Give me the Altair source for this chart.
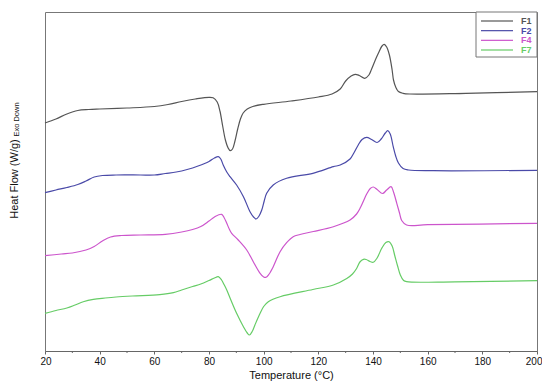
import altair as alt
import pandas as pd

# ---- data (Temperature in °C, heat flow in arbitrary units, offset curves) ----
series_names = ["F1", "F2", "F4", "F7"]
series_colors = ["#555555", "#4a4aa8", "#cc55cc", "#66cc66"]

f1_t = [20, 24, 28, 32, 36, 40, 50, 60, 65, 70, 75, 80, 81.5, 83, 84, 85, 86, 87, 87.8, 88.6,
        89.5, 90.5, 91.5, 92.5, 94, 96, 100, 110, 120, 125, 128, 130, 132, 133.5, 135, 137,
        138.5, 139.5, 141, 142, 143.3, 144.1, 145, 146, 147, 147.5, 148.3, 149.3, 151, 153.5,
        174, 200]
f1_px = [123, 119, 114, 110.5, 109.5, 109, 108, 106.5, 104.5, 101.5, 99, 97.3, 97.8, 102, 111,
         126, 140, 148, 150.7, 149, 141, 129, 119, 113, 109, 106.5, 104.3, 101, 97, 94, 89, 81,
         76, 74.3, 75.5, 78.3, 75, 69, 59, 53, 46, 44.3, 47, 55, 70, 80, 87, 91.5, 93.3, 94,
         93.3, 91.7]

f2_t = [20, 24, 28, 32, 35, 38, 41, 46, 55, 60, 64, 68, 72, 76, 80, 82, 83.4, 84.3, 85.2, 86.5,
        87.7, 90.1, 92.6, 95, 96.3, 97.2, 98.2, 99.3, 100.2, 101.1, 103.5, 108.4, 118, 125.5,
        128, 131.6, 133, 134.6, 136, 137.7, 139.5, 141.5, 143, 144.5, 145.4, 146.3, 147.4,
        148.3, 149.3, 151, 153, 162, 200]
f2_px = [192.7, 190, 187.5, 184.5, 181, 177, 175.5, 175, 175, 175, 173.5, 172, 169.5, 166,
         161.5, 158, 156.7, 159, 165, 172, 176.7, 185, 196.7, 211.7, 217, 219, 216.5, 210, 201,
         193.3, 185, 178.3, 173.3, 166.7, 165, 159, 153, 145, 139.5, 137.3, 139.5, 142.5, 139,
         133, 130.7, 134, 146.7, 156, 163, 168.5, 170, 170.7, 170.3]

f4_t = [20, 26, 30, 35, 38, 41, 44, 48, 55, 64, 70, 74, 77, 80, 82, 84.6, 85.5, 86.5, 87.5,
        88.3, 90.7, 93.8, 96.2, 98.7, 100, 100.9, 102, 103.5, 106, 108.4, 110.8, 113.3, 118.2,
        125.5, 131.6, 134, 135.5, 137.7, 139, 140.1, 141.5, 143.5, 145, 146.6, 147.5, 148.7,
        149.7, 150.5, 152.3, 160, 200]
f4_px = [255.7, 254, 253, 250, 246.5, 241, 237, 235.5, 235, 234.3, 232, 229.5, 226.5, 221, 217,
         214.3, 217.5, 223.3, 229.5, 233.3, 240, 250, 261.7, 273.3, 277, 277.3, 274, 266.7,
         251.7, 242.7, 236.7, 234.5, 231.5, 226.7, 220, 214, 207, 194, 188.5, 187, 189.5,
         193.5, 190, 186.7, 192, 203.3, 213, 220.5, 225, 224.7, 223.3]

f7_t = [20, 24, 28, 31, 34, 37.7, 42, 46, 52, 62, 67, 70, 74, 77, 80, 82, 83.4, 84.6, 85.5,
        86.5, 88, 90.1, 92.6, 94, 94.8, 95.8, 96.8, 98.7, 100, 101.7, 106, 118, 125.5, 130.4,
        132.5, 134, 135.2, 136.5, 137.5, 138.9, 140.1, 141.5, 143.2, 144.7, 145.9, 147, 148,
        149, 150, 151.2, 152.3, 170, 200]
f7_px = [313.3, 310.5, 308, 305, 301.7, 299.3, 298, 297, 296, 294.7, 292.7, 290, 286.5, 284,
         280.5, 278, 276.7, 280, 284.5, 290, 300, 313.3, 326.7, 333, 335, 331.5, 325, 313.3,
         306.5, 301.7, 296.7, 289.5, 285, 278.5, 274, 268.5, 262, 259.3, 259.5, 261.5, 262.3,
         258, 248.3, 242.5, 241.7, 246, 256, 266, 275, 280.5, 281.7, 281.8, 280.7]

x_major_ticks = [20, 40, 60, 80, 100, 120, 140, 160, 180, 200]
x_minor_ticks = [30, 50, 70, 90, 110, 130, 150, 170, 190]

# ---- tables ----
BASE = 351  # reading reference (lower frame)
rows = []
for name, ts, ps in zip(series_names, [f1_t, f2_t, f4_t, f7_t], [f1_px, f2_px, f4_px, f7_px]):
    for t, p in zip(ts, ps):
        rows.append({"series": name, "T": t, "hf": BASE - p})
df = pd.DataFrame(rows)
legend_df = pd.DataFrame({"series": series_names})
minor_df = pd.DataFrame({"t": x_minor_ticks})
one = pd.DataFrame({"a": [0]})

W, H = 492, 339
FONT = "Liberation Sans"

color_scale = alt.Scale(domain=series_names, range=series_colors)
x_scale = alt.Scale(domain=[20, 200], nice=False, zero=False)

lines = alt.Chart(df).mark_line(interpolate="catmull-rom", strokeWidth=1.2).encode(
    x=alt.X("T:Q", scale=x_scale,
            axis=alt.Axis(values=x_major_ticks, title="Temperature (°C)", grid=False,
                          tickSize=3, tickColor="#666", domainColor="#666",
                          labelFontSize=10, labelFontWeight="normal", labelColor="#111",
                          labelPadding=2, labelFlush=True, labelFlushOffset=5,
                          labelOverlap=False,
                          titleFontSize=11, titleFontWeight="normal",
                          titleColor="#111", titlePadding=3, labelFont=FONT, titleFont=FONT)),
    y=alt.Y("hf:Q", scale=alt.Scale(domain=[0, H], nice=False, zero=False), axis=None),
    color=alt.Color("series:N", scale=color_scale, legend=None),
    detail="series:N",
)

minor = alt.Chart(minor_df).mark_rule(color="#666", strokeWidth=1).encode(
    x=alt.X("t:Q", scale=x_scale),
    y=alt.value(H), y2=alt.value(H + 2),
)

ytitle = alt.Chart(one).mark_text(angle=270, fontSize=11, font=FONT, color="#111",
                                  align="center", baseline="middle").encode(
    x=alt.value(-30), y=alt.value(167), text=alt.value("Heat Flow (W/g)"))
ysub = alt.Chart(one).mark_text(angle=270, fontSize=7.5, font=FONT, color="#111",
                                align="center", baseline="middle").encode(
    x=alt.value(-28.5), y=alt.value(107.5), text=alt.value("Exo Down"))

leg_box = alt.Chart(one).mark_rect(fill="white", stroke="#777", strokeWidth=1).encode(
    x=alt.value(431), x2=alt.value(492), y=alt.value(0), y2=alt.value(45))

leg_y = alt.Y("series:N", scale=alt.Scale(type="point", domain=series_names, range=[9, 38], padding=0),
              axis=None)
leg_lines = alt.Chart(legend_df).mark_rule(strokeWidth=1.2).encode(
    x=alt.value(436), x2=alt.value(468), y=leg_y,
    color=alt.Color("series:N", scale=color_scale, legend=None))
leg_text = alt.Chart(legend_df).mark_text(align="left", baseline="middle", fontSize=9,
                                          fontWeight="bold", font=FONT).encode(
    x=alt.value(476), y=leg_y, text="series:N",
    color=alt.Color("series:N", scale=color_scale, legend=None))

chart = alt.layer(lines, minor, ytitle, ysub, leg_box, leg_lines, leg_text).resolve_scale(
    y="independent"
).properties(
    width=W, height=H,
    autosize="none",
    padding={"left": 37, "top": 4, "right": 5, "bottom": 31},
    background="white",
).configure_view(stroke="#777", strokeWidth=1)

chart.save("out.html", embed_options={"renderer": "svg", "actions": False})
